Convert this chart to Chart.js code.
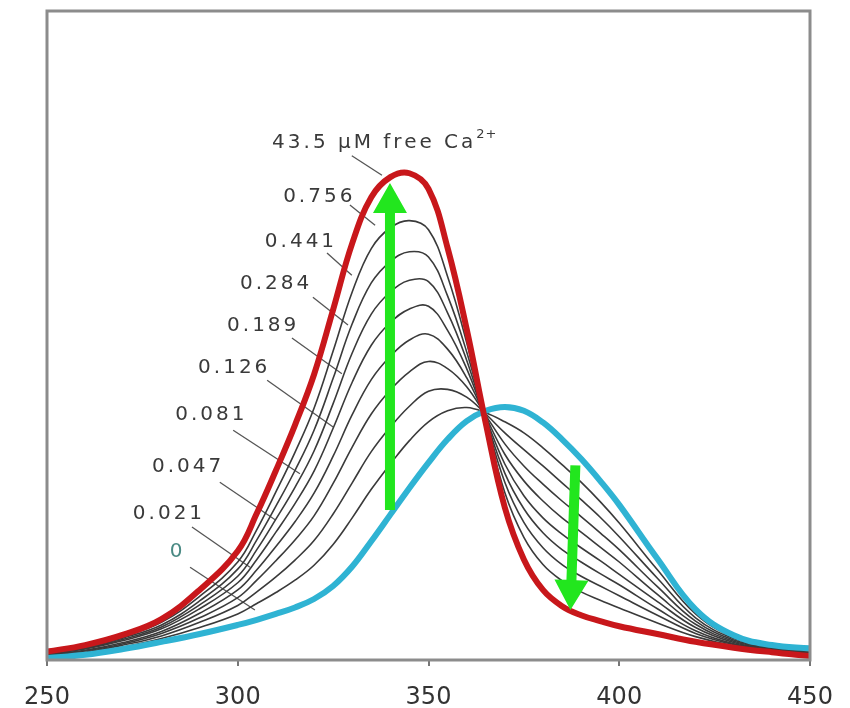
<!DOCTYPE html>
<html>
<head>
<meta charset="utf-8">
<script src="https://cdn.jsdelivr.net/npm/chart.js@4.4.0/dist/chart.umd.min.js"></script>
<style>
  html, body { margin: 0; padding: 0; background: #fff; }
  #grafico { display: block; }
</style>
</head>
<body>
<canvas id="grafico" width="850" height="708"></canvas>
<script>
// comprimentos de onda (nm)
const comprimentos = [250,260,270,280,290,300,305,310,315,320,325,330,335,340,345,350,355,360,365,370,375,380,385,390,395,400,410,420,430,440,450]

// espectros (unidades arbitrarias)
const livre0    = [0.3,0.8,1.7,2.8,4.0,5.4,6.2,7.1,8.1,9.4,11.4,14.4,18.3,22.4,26.5,30.4,34.0,36.8,38.4,39.0,38.4,36.6,34.0,31.0,27.6,23.9,15.6,7.8,3.8,2.3,1.8]
const livre0021 = [0.5,1.0,2.0,3.3,5.0,7.1,8.7,10.4,12.3,14.6,17.8,21.9,26.3,30.2,33.8,36.7,38.4,38.9,38.1,36.7,35.0,32.7,30.1,27.4,24.4,21.1,13.9,7.1,3.5,2.1,1.6]
const livre0047 = [0.6,1.2,2.3,3.7,5.8,8.4,10.5,12.8,15.4,18.4,22.5,27.3,32.1,35.9,39.1,41.4,41.7,40.5,37.9,35.0,32.4,29.9,27.3,24.7,22.0,19.0,12.6,6.5,3.3,2.0,1.5]
const livre0081 = [0.7,1.4,2.5,4.1,6.5,9.6,12.3,15.3,18.5,22.2,27.2,32.8,37.9,41.6,44.4,46.0,44.9,42.1,37.7,33.3,29.9,27.1,24.5,22.1,19.6,17.0,11.3,6.0,3.1,1.9,1.4]
const livre0126 = [0.8,1.5,2.7,4.4,7.2,10.8,13.9,17.5,21.3,25.7,31.4,37.8,43.2,46.8,49.3,50.2,47.9,43.5,37.5,31.7,27.6,24.5,21.9,19.7,17.4,15.1,10.1,5.5,2.9,1.8,1.2]
const livre0189 = [0.9,1.7,3.0,4.8,7.9,11.9,15.5,19.7,24.1,29.1,35.7,42.8,48.5,52.0,54.1,54.5,50.8,44.9,37.3,30.2,25.3,21.9,19.4,17.3,15.3,13.2,9.0,5.0,2.7,1.7,1.1]
const livre0284 = [1.0,1.8,3.2,5.1,8.5,12.9,17.0,21.7,26.6,32.2,39.5,47.3,53.3,56.7,58.5,58.3,53.5,46.2,37.1,28.8,23.3,19.6,17.0,15.1,13.3,11.6,7.9,4.5,2.5,1.6,1.0]
const livre0441 = [1.1,1.9,3.4,5.4,9.1,14.0,18.5,23.7,29.2,35.4,43.4,51.8,58.1,61.4,62.9,62.1,56.1,47.5,37.0,27.4,21.2,17.3,14.7,12.9,11.4,9.9,6.9,4.1,2.4,1.5,0.9]
const livre0756 = [1.2,2.1,3.6,5.8,9.8,15.1,20.1,25.9,32.0,38.8,47.6,56.7,63.4,66.6,67.7,66.3,59.1,48.9,36.8,25.8,18.9,14.7,12.2,10.5,9.2,8.0,5.7,3.6,2.2,1.4,0.8]
const livre435  = [1.3,2.3,3.9,6.3,10.8,16.8,22.6,29.2,36.2,44.0,54.0,64.2,71.3,74.4,75.0,72.6,63.5,51.0,36.5,23.5,15.5,10.8,8.3,6.9,6.0,5.2,4.0,2.8,1.9,1.2,0.6]

const concentracoes = ['0','0.021','0.047','0.081','0.126','0.189','0.284','0.441','0.756','43.5 μM free Ca']
const ticksX = [250,300,350,400,450]

// onde ficam os rotulos e as linhas guia (em nm / unidades do eixo)
const rotulos = [
  {x: 282.2, y: 16.6, x1: 287.5, y1: 14.3, x2: 304.5, y2: 7.7},
  {x: 272.5, y: 22.6, x1: 288.0, y1: 20.5, x2: 303.2, y2: 14.3},
  {x: 277.5, y: 29.7, x1: 295.3, y1: 27.4, x2: 309.8, y2: 21.6},
  {x: 283.6, y: 37.8, x1: 298.8, y1: 35.4, x2: 316.3, y2: 28.7},
  {x: 289.6, y: 45.0, x1: 307.7, y1: 43.1, x2: 325.0, y2: 35.9},
  {x: 297.2, y: 51.5, x1: 314.2, y1: 49.6, x2: 327.3, y2: 44.1},
  {x: 300.6, y: 57.9, x1: 319.7, y1: 55.9, x2: 328.9, y2: 51.6},
  {x: 307.1, y: 64.4, x1: 323.4, y1: 62.7, x2: 329.9, y2: 59.3},
  {x: 311.9, y: 71.3, x1: 329.4, y1: 70.1, x2: 336.0, y2: 67.0},
  {x: 309.0, y: 79.7, x1: 329.9, y1: 77.7, x2: 337.8, y2: 74.7}
]

// setas verdes
const setas = [
  {x1: 339.9, y1: 23.1, x2: 339.9, y2: 73.5},
  {x1: 388.5, y1: 30.0, x2: 387.2, y2: 7.7}
]

function pontos(valores){
  return comprimentos.map((c, i) => ({x: c, y: valores[i]}))
}

const pretas = [livre0021, livre0047, livre0081, livre0126, livre0189, livre0284, livre0441, livre0756]

let datasets = [
  {data: pontos(livre435), borderColor: '#c8171b', borderWidth: 6, order: 0},
  {data: pontos(livre0), borderColor: '#2fb3d3', borderWidth: 6, order: 1}
]
pretas.forEach((serie) => {
  datasets.push({data: pontos(serie), borderColor: '#3a3a3a', borderWidth: 1.6, order: 2})
})

const guias = {
  id: 'guias',
  beforeDatasetsDraw(chart){
    const ctx = chart.ctx
    const sx = chart.scales.x, sy = chart.scales.y
    ctx.save()
    ctx.strokeStyle = '#555'
    ctx.lineWidth = 1.3
    rotulos.forEach((r) => {
      ctx.beginPath()
      ctx.moveTo(sx.getPixelForValue(r.x1), sy.getPixelForValue(r.y1))
      ctx.lineTo(sx.getPixelForValue(r.x2), sy.getPixelForValue(r.y2))
      ctx.stroke()
    })
    ctx.restore()
  },
  afterDatasetsDraw(chart){
    const ctx = chart.ctx
    const sx = chart.scales.x, sy = chart.scales.y
    const a = chart.chartArea
    ctx.save()

    // setas
    ctx.fillStyle = '#22e61e'
    setas.forEach((s) => {
      desenhaSeta(ctx, sx.getPixelForValue(s.x1), sy.getPixelForValue(s.y1), sx.getPixelForValue(s.x2), sy.getPixelForValue(s.y2))
    })

    // textos
    ctx.textBaseline = 'middle'
    ctx.textAlign = 'left'
    rotulos.forEach((r, i) => {
      let px = sx.getPixelForValue(r.x)
      let py = sy.getPixelForValue(r.y)
      ctx.fillStyle = i == 0 ? '#4a8a84' : '#3a3a3a'
      ctx.font = '20px "DejaVu Sans"'
      ctx.letterSpacing = '3px'
      ctx.fillText(concentracoes[i], px, py)
      if(i == rotulos.length - 1){
        let w = ctx.measureText(concentracoes[i]).width
        ctx.font = '13px "DejaVu Sans"'
        ctx.letterSpacing = '1px'
        ctx.fillText('2+', px + w, py - 8)
      }
    })

    // moldura
    ctx.strokeStyle = '#8c8c8c'
    ctx.lineWidth = 3
    ctx.strokeRect(a.left, a.top, a.right - a.left, a.bottom - a.top)
    ctx.restore()
  }
}

function desenhaSeta(ctx, x1, y1, x2, y2){
  const comp = Math.hypot(x2 - x1, y2 - y1)
  const ux = (x2 - x1) / comp, uy = (y2 - y1) / comp
  const nx = -uy, ny = ux
  const cabeca = 30, largCabeca = 17, largHaste = 5
  const bx = x2 - ux * cabeca, by = y2 - uy * cabeca
  ctx.beginPath()
  ctx.moveTo(x1 + nx * largHaste, y1 + ny * largHaste)
  ctx.lineTo(bx + nx * largHaste, by + ny * largHaste)
  ctx.lineTo(bx + nx * largCabeca, by + ny * largCabeca)
  ctx.lineTo(x2, y2)
  ctx.lineTo(bx - nx * largCabeca, by - ny * largCabeca)
  ctx.lineTo(bx - nx * largHaste, by - ny * largHaste)
  ctx.lineTo(x1 - nx * largHaste, y1 - ny * largHaste)
  ctx.closePath()
  ctx.fill()
}

const grafico = new Chart(document.getElementById('grafico'), {
  type: 'line',
  data: {datasets: datasets},
  options: {
    responsive: false,
    animation: false,
    devicePixelRatio: 1,
    layout: {padding: {left: 47, right: 40, top: 11, bottom: 0}},
    elements: {
      point: {radius: 0},
      line: {tension: 0.4, borderCapStyle: 'round', borderJoinStyle: 'round'}
    },
    plugins: {legend: {display: false}, tooltip: {enabled: false}},
    scales: {
      x: {
        type: 'linear',
        min: 250,
        max: 450,
        afterBuildTicks: (escala) => { escala.ticks = ticksX.map(v => ({value: v})) },
        afterFit: (escala) => { escala.height = 48 },
        grid: {drawOnChartArea: false, drawTicks: true, tickLength: 6, color: '#777', lineWidth: 2},
        border: {display: false},
        ticks: {padding: 17, color: '#333', font: {family: 'DejaVu Sans', size: 24}}
      },
      y: {min: 0, max: 100, display: false}
    }
  },
  plugins: [guias]
})
</script>
</body>
</html>
